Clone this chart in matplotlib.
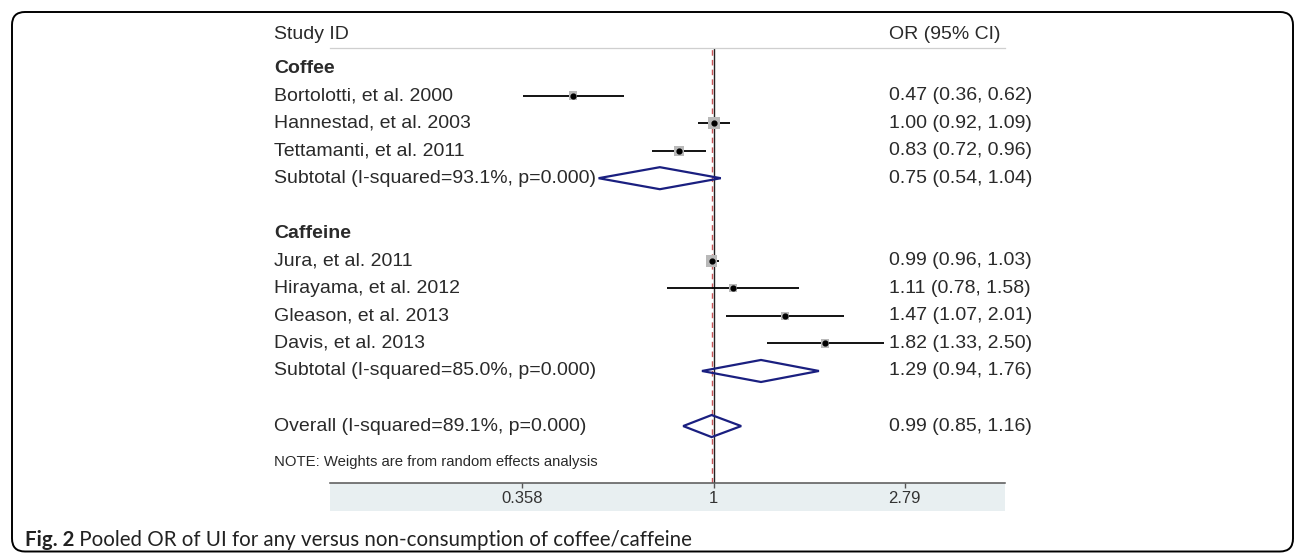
import numpy as np
import matplotlib
matplotlib.use("Agg")
import matplotlib.pyplot as plt
from matplotlib.patches import Polygon, Rectangle, FancyBboxPatch
from matplotlib.transforms import blended_transform_factory

plt.rcParams['font.family'] = ['Liberation Sans', 'DejaVu Sans']

# ---- study data (odds ratios with 95% CI) ----
coffee_studies = ["Bortolotti, et al. 2000", "Hannestad, et al. 2003",
                  "Tettamanti, et al. 2011"]
coffee_or = [0.47, 1.00, 0.83]
coffee_lo = [0.36, 0.92, 0.72]
coffee_hi = [0.62, 1.09, 0.96]
coffee_weight = [10.5, 22.0, 16.0]
coffee_sub_label = "Subtotal (I-squared=93.1%, p=0.000)"
coffee_sub = [0.75, 0.54, 1.04]

caffeine_studies = ["Jura, et al. 2011", "Hirayama, et al. 2012",
                    "Gleason, et al. 2013", "Davis, et al. 2013"]
caffeine_or = [0.99, 1.11, 1.47, 1.82]
caffeine_lo = [0.96, 0.78, 1.07, 1.33]
caffeine_hi = [1.03, 1.58, 2.01, 2.50]
caffeine_weight = [21.0, 10.0, 10.0, 10.5]
caffeine_sub_label = "Subtotal (I-squared=85.0%, p=0.000)"
caffeine_sub = [1.29, 0.94, 1.76]

overall_label = "Overall (I-squared=89.1%, p=0.000)"
overall = [0.99, 0.85, 1.16]

tick_values = [0.358, 1, 2.79]
tick_labels = ["0.358", "1", "2.79"]

note_text = "NOTE: Weights are from random effects analysis"
caption_bold = "Fig. 2"
caption_rest = " Pooled OR of UI for any versus non-consumption of coffee/caffeine"

# ---- layout (pixels on a 1297 x 554 canvas) ----
W, H = 1297, 554
x_left_px, x_right_px = 330, 1005      # extent of the x axis line
x_one_px, px_per_ln = 713.5, 186.5     # where OR=1 sits, and log scale
row0_px, row_step = 40.5, 27.54        # row k sits at row0 + k*step
axis_px, top_px = 483, 48

fig = plt.figure(figsize=(W / 100, H / 100), dpi=100)
ax = fig.add_axes([x_left_px / W, (H - axis_px) / H,
                   (x_right_px - x_left_px) / W, (axis_px - top_px) / H])
ax.set_xscale('log')
ax.set_xlim(np.exp((x_left_px - x_one_px) / px_per_ln),
            np.exp((x_right_px - x_one_px) / px_per_ln))
ax.set_ylim((axis_px - row0_px) / row_step, (top_px - row0_px) / row_step)

text_col = '#2a2a2a'
fs = 14
tr = blended_transform_factory(fig.transFigure, ax.transData)
x_lab = 274 / W
x_val = 889 / W


def value_text(y, es, lo, hi):
    ax.text(x_val, y, "%.2f (%.2f, %.2f)" % (es, lo, hi), transform=tr,
            fontsize=fs, color=text_col, va='center', ha='left')


def study_row(y, label, es, lo, hi, w):
    ax.plot([lo, hi], [y, y], color='black', lw=1.3, solid_capstyle='butt',
            zorder=3)
    # grey weight box, area proportional to the study weight
    side = 12 * np.sqrt(w / 22.0) * 0.72
    ax.scatter([es], [y], marker='s', s=side ** 2, color='#b9b9b9',
               edgecolors='none', zorder=4)
    ax.scatter([es], [y], marker='o', s=12, color='black', zorder=5)
    ax.text(x_lab, y, label, transform=tr, fontsize=fs, color=text_col,
            va='center', ha='left')
    value_text(y, es, lo, hi)


def pooled_row(y, label, es, lo, hi):
    h = 0.4
    ax.add_patch(Polygon([[lo, y], [es, y - h], [hi, y], [es, y + h]],
                         closed=True, fill=False, ec='#1a1f80', lw=1.6,
                         zorder=4))
    ax.text(x_lab, y, label, transform=tr, fontsize=fs, color=text_col,
            va='center', ha='left')
    value_text(y, es, lo, hi)


# header
ax.text(x_lab, -0.2, "Study ID", transform=tr, fontsize=fs, color=text_col,
        va='center', clip_on=False)
ax.text(x_val, -0.2, "OR (95% CI)", transform=tr, fontsize=fs,
        color=text_col, va='center', clip_on=False)

# coffee group
ax.text(x_lab, 1, "Coffee", transform=tr, fontsize=fs, fontweight='bold',
        color=text_col, va='center')
for i in range(len(coffee_studies)):
    study_row(2 + i, coffee_studies[i], coffee_or[i], coffee_lo[i],
              coffee_hi[i], coffee_weight[i])
pooled_row(5, coffee_sub_label, *coffee_sub)

# caffeine group
ax.text(x_lab, 7, "Caffeine", transform=tr, fontsize=fs, fontweight='bold',
        color=text_col, va='center')
for i in range(len(caffeine_studies)):
    study_row(8 + i, caffeine_studies[i], caffeine_or[i], caffeine_lo[i],
              caffeine_hi[i], caffeine_weight[i])
pooled_row(12, caffeine_sub_label, *caffeine_sub)

pooled_row(14, overall_label, *overall)

ax.text(x_lab, 15.3, note_text, transform=tr, fontsize=10.7,
        color=text_col, va='center')

# reference lines: null effect and overall estimate
ax.axvline(1, color='#222222', lw=1.0, zorder=2)
ax.axvline(overall[0], color='#c8575a', lw=1.0, ls=(0, (4, 3)), zorder=2)

# axis styling
for s in ['left', 'right']:
    ax.spines[s].set_visible(False)
ax.spines['top'].set_color('#cfcfcf')
ax.spines['top'].set_linewidth(0.9)
ax.spines['bottom'].set_color('#555555')
ax.spines['bottom'].set_linewidth(1.1)
ax.set_yticks([])
ax.set_xticks(tick_values)
ax.set_xticklabels(tick_labels)
ax.xaxis.set_minor_locator(matplotlib.ticker.NullLocator())
ax.tick_params(axis='x', direction='out', length=3.6, width=1.0,
               color='#555555', labelsize=12, labelcolor='#333333', pad=2)
ax.patch.set_alpha(0)

# shaded strip under the axis
fig.add_artist(Rectangle((x_left_px / W, (H - 511) / H),
                         (x_right_px - x_left_px) / W, (511 - axis_px) / H,
                         transform=fig.transFigure, color='#e8eff1',
                         zorder=0, lw=0))

# figure frame with rounded corners
fig.add_artist(FancyBboxPatch((0.12, 0.025), 12.81, 5.395,
                              boxstyle="round,pad=0,rounding_size=0.13",
                              transform=fig.dpi_scale_trans, fill=False,
                              ec='black', lw=1.4))

# caption
t1 = fig.text(25 / W, (H - 540) / H, caption_bold, fontsize=14.8,
              fontweight='bold', family='Lato', color='#222222',
              va='center')
ax.annotate(caption_rest, xy=(1, 0), xycoords=t1, va='bottom', ha='left',
            fontsize=14.8, family='Lato', color='#222222',
            annotation_clip=False)

fig.savefig("out.png", dpi=100)
